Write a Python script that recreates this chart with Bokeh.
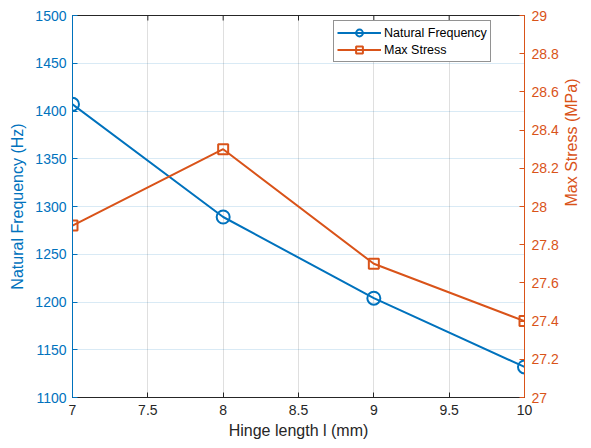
import math
from bokeh.plotting import figure
from bokeh.models import (Range1d, LinearAxis, FixedTicker, CustomJSTickFormatter,
                          Legend, LegendItem)
from bokeh.embed import file_html
from bokeh.resources import INLINE

# ---- data ----
hinge_length = [7, 8, 9, 10]
natural_freq = [1407, 1289, 1204, 1132]
max_stress = [27.9, 28.3, 27.7, 27.4]

x_ticks = [7, 7.5, 8, 8.5, 9, 9.5, 10]
left_ticks = [1100, 1150, 1200, 1250, 1300, 1350, 1400, 1450, 1500]
right_ticks = [27, 27.2, 27.4, 27.6, 27.8, 28, 28.2, 28.4, 28.6, 28.8, 29]

BLUE = "#0072BD"
ORANGE = "#D95319"
DARK = "#262626"
FONT = "Liberation Sans"

p = figure(width=591, height=448, output_backend="svg", toolbar_location=None,
           x_range=Range1d(7, 10), y_range=Range1d(1100, 1500),
           min_border_left=72, min_border_right=66, min_border_top=15,
           min_border_bottom=51, x_axis_location=None, y_axis_location=None)
p.outline_line_color = DARK
p.outline_line_width = 1
p.background_fill_color = "white"
p.border_fill_color = "white"
p.extra_y_ranges = {"stress": Range1d(27, 29)}

fmt = CustomJSTickFormatter(code="return String(Math.round(tick*10)/10);")

def style(ax, color, ticks):
    ax.ticker = FixedTicker(ticks=ticks)
    ax.axis_line_color = color
    ax.axis_line_width = 1
    ax.major_tick_line_color = color
    ax.major_tick_in = 5
    ax.major_tick_out = 0
    ax.minor_tick_line_color = None
    ax.major_label_text_color = color
    ax.major_label_text_font = FONT
    ax.major_label_text_font_size = "14px"
    ax.axis_label_text_color = color
    ax.axis_label_text_font = FONT
    ax.axis_label_text_font_size = "16px"
    ax.axis_label_text_font_style = "normal"

xb = LinearAxis(axis_label="Hinge length l (mm)", formatter=fmt)
style(xb, DARK, x_ticks)
xb.major_label_standoff = 7
xb.axis_label_standoff = 4
p.add_layout(xb, "below")

yl = LinearAxis(axis_label="Natural Frequency (Hz)")
style(yl, BLUE, left_ticks)
yl.major_label_standoff = 6
yl.axis_label_standoff = 6
p.add_layout(yl, "left")

yr = LinearAxis(axis_label="Max Stress (MPa)", y_range_name="stress", formatter=fmt)
style(yr, ORANGE, right_ticks)
yr.major_label_standoff = 7
yr.axis_label_standoff = 10
yr.axis_label_orientation = math.pi / 2
p.add_layout(yr, "right")

# top-edge tick marks (inward), as in the reference box
p.ray(x=x_ticks, y=[1500] * len(x_ticks), length=5, length_units="screen",
      angle=-math.pi / 2, line_color=DARK, line_width=1)

p.xgrid.ticker = FixedTicker(ticks=x_ticks)
p.xgrid.grid_line_color = DARK
p.xgrid.grid_line_alpha = 0.15
p.ygrid.ticker = FixedTicker(ticks=left_ticks)
p.ygrid.grid_line_color = BLUE
p.ygrid.grid_line_alpha = 0.15

l1 = p.line(hinge_length, natural_freq, line_color=BLUE, line_width=2)
s1 = p.scatter(hinge_length, natural_freq, marker="circle", size=13,
               line_color=BLUE, line_width=2, fill_color=None)
l2 = p.line(hinge_length, max_stress, line_color=ORANGE, line_width=2,
            y_range_name="stress")
s2 = p.scatter(hinge_length, max_stress, marker="square", size=10,
               line_color=ORANGE, line_width=2, fill_color=None,
               y_range_name="stress")

legend = Legend(items=[LegendItem(label="Natural Frequency", renderers=[l1, s1]),
                       LegendItem(label="Max Stress", renderers=[l2, s2])],
                location=(261, 335))
legend.label_text_font = FONT
legend.label_text_font_size = "12.5px"
legend.label_text_color = "black"
legend.padding = 3
legend.spacing = 0
legend.margin = 0
legend.glyph_width = 44
legend.glyph_height = 17
legend.label_height = 17
legend.label_standoff = 3
legend.border_line_color = DARK
legend.border_line_width = 1
legend.background_fill_color = "white"
legend.background_fill_alpha = 1
p.add_layout(legend, "center")

open("out.html", "w").write(file_html(p, INLINE))
